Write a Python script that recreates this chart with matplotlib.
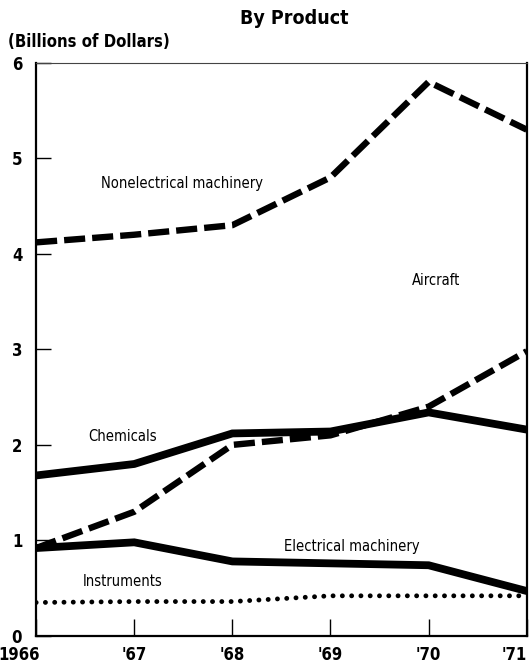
import matplotlib.pyplot as plt
from matplotlib.transforms import ScaledTranslation

years = [1966, 1967, 1968, 1969, 1970, 1971]
year_labels = ["1966", "'67", "'68", "'69", "'70", "'71"]

nonelectrical = [4.12, 4.2, 4.3, 4.8, 5.8, 5.3]
aircraft = [0.92, 1.3, 2.0, 2.1, 2.4, 2.98]
chemicals = [1.68, 1.8, 2.12, 2.14, 2.34, 2.16]
electrical = [0.92, 0.98, 0.78, 0.76, 0.74, 0.47]
instruments = [0.35, 0.36, 0.36, 0.42, 0.42, 0.42]

plt.rcParams["font.family"] = ["DejaVu Sans"]
plt.rcParams["font.stretch"] = "condensed"

fig = plt.figure(figsize=(5.31, 6.68), dpi=100)
ax = fig.add_axes([0.068, 0.048, 0.924, 0.858])

dash = (0, (3.3, 1.1))
ax.plot(years, nonelectrical, color="black", lw=4.6, linestyle=dash, dash_capstyle="butt")
ax.plot(years, aircraft, color="black", lw=4.6, linestyle=dash, dash_capstyle="butt")
ax.plot(years, chemicals, color="black", lw=5.6, solid_joinstyle="miter")
ax.plot(years, electrical, color="black", lw=5.6, solid_joinstyle="miter")
ax.plot(years, instruments, color="black", lw=3.5, linestyle=(0, (0.01, 1.9)),
        dash_capstyle="round")

ax.set_xlim(1966, 1971)
ax.set_ylim(0, 6)
ax.set_xticks(years)
ax.set_xticklabels(year_labels, fontsize=12, fontweight="bold")
ax.set_yticks(range(0, 7))
ax.set_yticklabels([str(i) for i in range(0, 7)], fontsize=12, fontweight="bold")
ax.tick_params(axis="y", direction="in", length=11, width=1, pad=10)
ax.tick_params(axis="x", direction="in", length=12, width=1, pad=7)
xl = ax.get_xticklabels()
xl[0].set_horizontalalignment("right")
xl[0].set_transform(xl[0].get_transform() + ScaledTranslation(3 / 72, 0, fig.dpi_scale_trans))
xl[-1].set_horizontalalignment("right")

for s in ["left", "bottom", "right"]:
    ax.spines[s].set_linewidth(1.6)
ax.spines["top"].set_linewidth(0.8)
ax.spines["top"].set_color("#444444")

fs = 10.5
ax.text(1967.49, 4.74, "Nonelectrical machinery", fontsize=fs, ha="center", va="center")
ax.text(1970.08, 3.72, "Aircraft", fontsize=fs, ha="center", va="center")
ax.text(1966.88, 2.09, "Chemicals", fontsize=fs, ha="center", va="center")
ax.text(1969.22, 0.94, "Electrical machinery", fontsize=fs, ha="center", va="center")
ax.text(1966.88, 0.57, "Instruments", fontsize=fs, ha="center", va="center")

fig.text(0.555, 0.972, "By Product", fontsize=14, fontweight="bold", ha="center", va="center")
fig.text(0.015, 0.937, "(Billions of Dollars)", fontsize=12, fontweight="bold", ha="left", va="center")

fig.savefig("out.png", dpi=100)
